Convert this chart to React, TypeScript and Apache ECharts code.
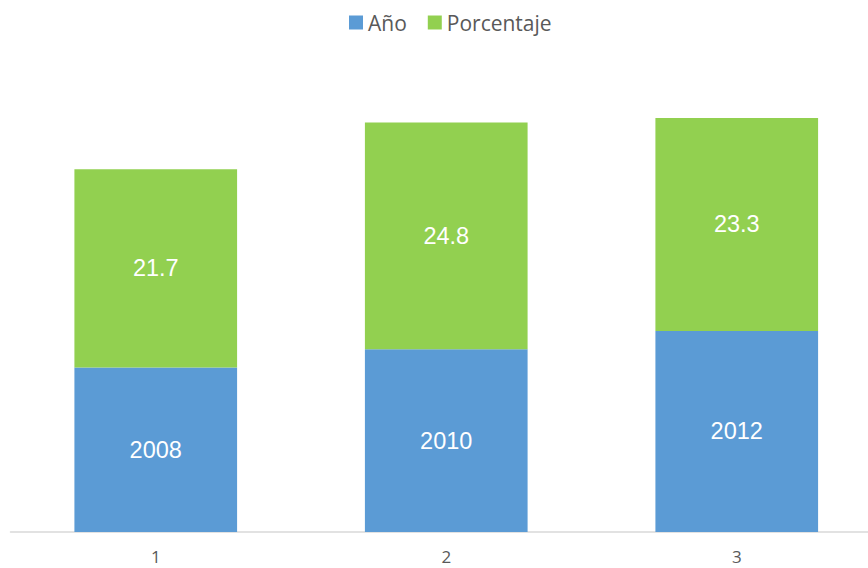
import React, { useEffect, useRef } from "react";
import * as echarts from "echarts";

const categories = ["1", "2", "3"];
const anoValues = [2008, 2010, 2012];
const porcentajeValues = [21.7, 24.8, 23.3];
const seriesNames = ["Año", "Porcentaje"];

export default function App() {
  const ref = useRef<HTMLDivElement>(null);
  useEffect(() => {
    const chart = echarts.init(ref.current!, null, { renderer: "svg" });
    chart.setOption({
      animation: false,
      legend: {
        data: seriesNames,
        left: 344,
        top: 7,
        itemWidth: 14,
        itemHeight: 14,
        itemGap: 21,
        icon: "rect",
        textStyle: { fontFamily: "Open Sans", fontSize: 21, color: "#595959" },
      },
      grid: { left: 10.5, right: 0, top: 75, bottom: 36, containLabel: false },
      xAxis: {
        type: "category",
        data: categories,
        axisLine: { lineStyle: { color: "#D9D9D9", width: 1.5 } },
        axisTick: { show: false },
        axisLabel: { color: "#595959", fontSize: 17, fontFamily: "Open Sans", margin: 16 },
      },
      yAxis: {
        type: "value",
        min: 1990,
        max: 2040,
        show: false,
        splitLine: { show: false },
      },
      series: [
        {
          name: seriesNames[0],
          type: "bar",
          stack: "total",
          data: anoValues,
          barWidth: "56%",
          itemStyle: { color: "#5B9BD5" },
          label: { show: true, position: "inside", color: "#fff", fontSize: 23.5, fontFamily: "Liberation Sans" },
        },
        {
          name: seriesNames[1],
          type: "bar",
          stack: "total",
          data: porcentajeValues,
          barWidth: "56%",
          itemStyle: { color: "#92D050" },
          label: { show: true, position: "inside", color: "#fff", fontSize: 23.5, fontFamily: "Liberation Sans" },
        },
      ],
    });
    return () => chart.dispose();
  }, []);
  return (
    <div
      ref={ref}
      style={{ position: "fixed", left: 0, top: 0, width: 882, height: 568, background: "#fff" }}
    />
  );
}
